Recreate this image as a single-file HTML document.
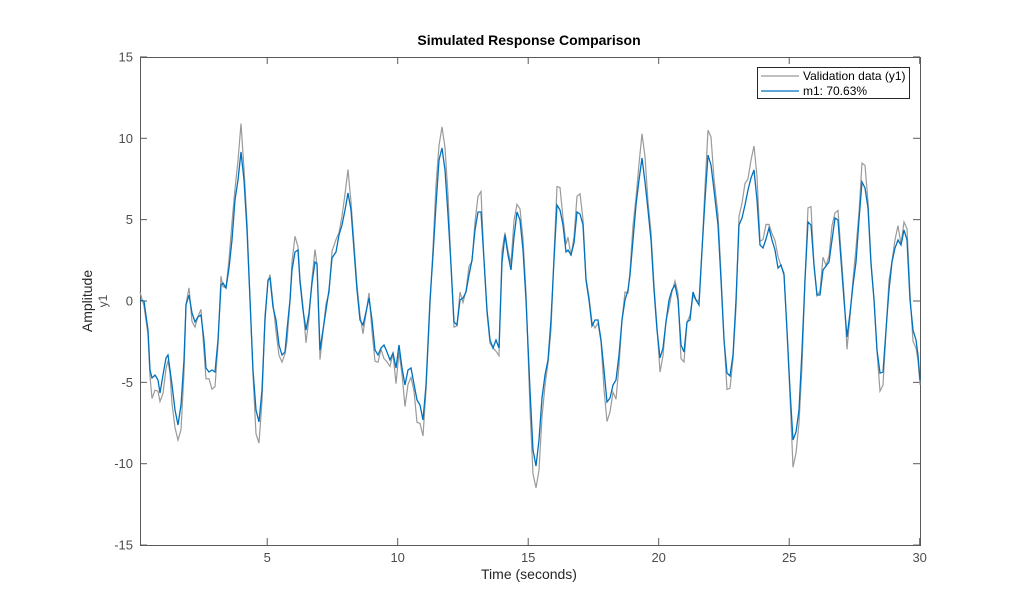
<!DOCTYPE html>
<html><head><meta charset="utf-8"><style>
body{margin:0;background:#fff;}
svg{display:block;font-family:"Liberation Sans",sans-serif;}
</style></head><body>
<svg id="s" width="1018" height="613" viewBox="0 0 1018 613">
<rect x="0" y="0" width="1018" height="613" fill="#fff"/>
<rect x="140.5" y="57.5" width="780" height="488" fill="#fff" stroke="#5a5a5a" stroke-width="1"/>
<g id="ticks" stroke="#5a5a5a" stroke-width="1"></g>
<g font-size="13" fill="#4d4d4d" id="labels"></g>
<polyline id="gray" fill="none" stroke="#9a9a9a" stroke-width="1.2"/>
<polyline id="blue" fill="none" stroke="#0072bd" stroke-width="1.3"/>
<text x="529" y="45" font-size="14" font-weight="bold" text-anchor="middle" fill="#000">Simulated Response Comparison</text>
<text x="529" y="579" font-size="14" text-anchor="middle" fill="#262626">Time (seconds)</text>
<text transform="translate(92,301) rotate(-90)" font-size="14" text-anchor="middle" fill="#262626">Amplitude</text>
<text transform="translate(107,301) rotate(-90)" font-size="12" text-anchor="middle" fill="#4d4d4d">y1</text>
<rect x="757.5" y="67.5" width="152" height="31" fill="#fff" stroke="#262626"/>
<line x1="761" y1="76" x2="799" y2="76" stroke="#9a9a9a" stroke-width="1.2"/>
<line x1="761" y1="91" x2="799" y2="91" stroke="#0072bd" stroke-width="1.3"/>
<text x="803" y="80" font-size="12" fill="#000">Validation data (y1)</text>
<text x="803" y="95" font-size="12" fill="#000">m1: 70.63%</text>
</svg>
<script>
var b=[140,300,144,301,148,330,150,370,152,378,155,375,158,380,160,393,163,375,166,358,168,355,170,370,172,385,175,410,178,425,181,405,184,360,186,305,189,295,192,313,195,322,198,317,201,315,204,340,206,368,209,372,212,370,215,372,218,340,221,285,223,283,226,288,229,268,232,240,235,200,238,180,241,152,244,180,247,230,250,300,253,370,256,410,259,422,262,390,265,320,268,280,270,278,273,307,276,320,279,345,282,355,285,352,287,330,290,300,292,270,295,252,298,250,300,282,303,310,306,330,309,313,312,283,315,262,317,264,320,350,323,330,326,310,329,290,332,258,336,252,339,235,342,225,345,210,348,193,351,210,354,250,357,290,360,320,363,325,366,312,369,298,372,320,375,350,378,355,381,348,384,345,387,352,390,360,393,353,396,368,399,345,402,368,405,385,408,370,411,368,414,384,417,400,420,405,423,420,426,385,430,300,433,255,436,205,439,160,442,148,445,170,448,215,451,265,454,322,457,325,460,300,463,298,466,292,469,275,472,260,475,230,478,212,481,212,484,260,487,310,490,340,493,348,496,340,499,348,502,262,505,235,508,255,511,270,514,237,517,212,520,220,523,250,526,300,530,390,533,450,536,466,539,440,542,398,545,375,548,360,551,320,554,260,557,205,560,210,563,225,566,252,568,250,571,255,574,243,577,212,580,214,583,225,586,280,589,300,592,326,595,320,598,320,601,340,604,370,607,402,610,398,613,385,616,380,619,355,622,320,625,300,628,290,630,275,633,240,636,205,639,180,642,158,645,182,648,210,651,240,654,290,657,330,660,358,663,348,666,322,669,300,672,290,675,285,678,300,681,345,684,352,687,322,690,320,693,292,696,300,699,305,702,250,705,200,708,155,711,165,714,190,718,225,721,280,724,340,727,373,730,376,733,355,736,300,739,225,742,218,745,205,748,190,751,178,754,170,757,200,760,245,763,248,766,239,769,228,772,240,775,250,778,268,781,265,784,275,787,330,790,390,793,440,796,432,799,410,802,350,805,280,808,222,811,225,814,265,817,295,820,295,823,270,826,266,829,262,832,240,835,218,838,220,841,260,844,300,847,337,850,313,853,285,856,262,859,220,862,182,865,188,868,208,871,264,874,300,877,350,880,373,883,372,886,330,889,290,892,262,895,248,898,240,901,245,904,230,907,240,910,300,913,330,916,340,918,355,920,380];
var bp=[],gp=[];
for(var i=0;i<b.length;i+=2){bp.push(b[i]+','+b[i+1]);var n=((i*37)%11-5)*1.6;var g=300+(b[i+1]-300)*1.16+n;gp.push(b[i]+','+g.toFixed(1));}
document.getElementById('blue').setAttribute('points',bp.join(' '));
document.getElementById('gray').setAttribute('points',gp.join(' '));
var t='',l='';
for(var k=5;k<=30;k+=5){var x=136.7+26.1*k;t+='<line x1="'+x+'" y1="545" x2="'+x+'" y2="538"/><line x1="'+x+'" y1="57" x2="'+x+'" y2="64"/>';l+='<text x="'+x+'" y="562" text-anchor="middle">'+k+'</text>';}
for(var v=-15;v<=15;v+=5){var y=301-v*16.27;t+='<line x1="140" y1="'+y+'" x2="147" y2="'+y+'"/><line x1="920" y1="'+y+'" x2="913" y2="'+y+'"/>';l+='<text x="133" y="'+(y+4.5)+'" text-anchor="end">'+v+'</text>';}
document.getElementById('ticks').innerHTML=t;
document.getElementById('labels').innerHTML=l;
</script>
</body></html>
